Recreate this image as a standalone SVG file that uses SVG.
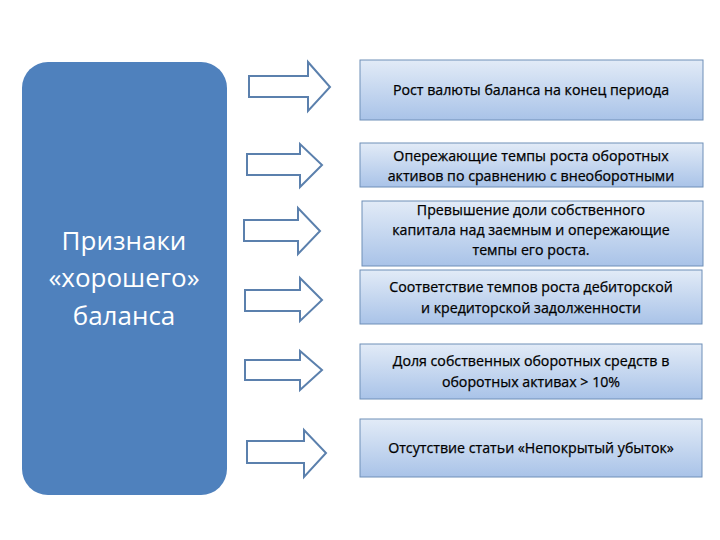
<svg xmlns="http://www.w3.org/2000/svg" width="720" height="540" viewBox="0 0 720 540">
<defs>
<linearGradient id="g" x1="0" y1="0" x2="0" y2="1"><stop offset="0" stop-color="#e2ebf7"/><stop offset="1" stop-color="#a9c3e8"/></linearGradient>
<style>
.b{fill:url(#g);stroke:#6f8fb8;stroke-width:1}
.a{fill:#fff;stroke:#5b80ad;stroke-width:2;stroke-linejoin:miter}
.t{font-family:"Open Sans","Liberation Sans",sans-serif;font-size:14.2px;fill:#000;text-anchor:middle;stroke:#000;stroke-width:0.25}
.p{font-family:"Open Sans","Liberation Sans",sans-serif;font-size:26px;fill:#fff;text-anchor:middle}
</style>
</defs>
<rect width="720" height="540" fill="#fff"/>
<g id="panel"><rect x="22" y="62" width="205" height="433" rx="26" fill="#4f81bd"/>
<text class="p" x="124" y="250">Признаки</text><text class="p" x="124" y="287">«хорошего»</text><text class="p" x="124" y="325">баланса</text></g>
<g id="connectors">
<path class="a" d="M249,76H308V62L330,87L308,111V97H249Z"/>
<path class="a" d="M247,154H300V144L322,165L300,187V175H247Z"/>
<path class="a" d="M244,220H298V208L320,231L298,254V241H244Z"/>
<path class="a" d="M245,290H300V278L322,300L300,321V311H245Z"/>
<path class="a" d="M245,360H300V351L322,370L300,390V380H245Z"/>
<path class="a" d="M247,441H304V430L326,453L304,477V463H247Z"/>
</g>
<g id="n1"><rect class="b" x="360" y="60" width="343" height="60"/><text class="t" x="531" y="95">Рост валюты баланса на конец периода</text></g>
<g id="n2"><rect class="b" x="360" y="143" width="343" height="44"/><text class="t" x="531" y="161">Опережающие темпы роста оборотных</text><text class="t" x="531" y="181">активов по сравнению с внеоборотными</text></g>
<g id="n3"><rect class="b" x="362" y="201" width="341" height="65"/><text class="t" x="531" y="215">Превышение доли собственного</text><text class="t" x="531" y="235">капитала над заемным и опережающие</text><text class="t" x="531" y="255">темпы его роста.</text></g>
<g id="n4"><rect class="b" x="360" y="270" width="342" height="54"/><text class="t" x="531" y="292">Соответствие темпов роста дебиторской</text><text class="t" x="531" y="313">и кредиторской задолженности</text></g>
<g id="n5"><rect class="b" x="360" y="344" width="342" height="55"/><text class="t" x="531" y="366">Доля собственных оборотных средств в</text><text class="t" x="531" y="387">оборотных активах &gt; 10%</text></g>
<g id="n6"><rect class="b" x="360" y="419" width="342" height="58"/><text class="t" x="531" y="453">Отсутствие статьи «Непокрытый убыток»</text></g>
</svg>
